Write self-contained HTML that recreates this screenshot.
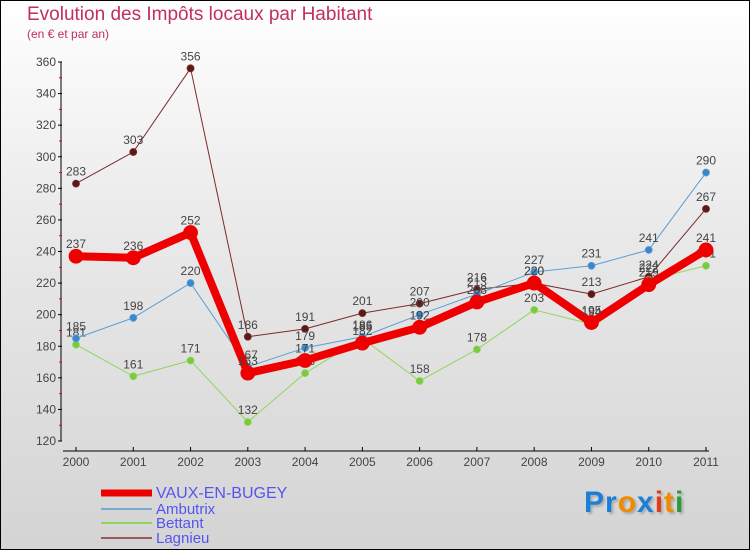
<!DOCTYPE html>
<html><head><meta charset="utf-8"><style>
body{margin:0}
#c{position:relative;width:748px;height:548px;border:1px solid #000;background:linear-gradient(#fff 0%,#eaeaea 40%,#d4d4d4 100%);font-family:"Liberation Sans",sans-serif;overflow:hidden}
</style></head><body>
<div id="c">
<div style="position:absolute;left:26px;top:3px;font-size:19px;color:#c0305a">Evolution des Impôts locaux par Habitant</div>
<div style="position:absolute;left:26px;top:26px;font-size:12px;color:#c0305a">(en € et par an)</div>
<svg id="s" width="748" height="548" style="position:absolute;left:0;top:0"></svg>
<div style="position:absolute;left:583px;top:485px;font-size:30px;font-weight:bold;letter-spacing:1px;text-shadow:2px 2px 2px #aaa"><span style="color:#1a7fd6">Pr</span><span style="color:#f08a00">o</span><span style="color:#1a7fd6">x</span><span style="color:#e23a1a">i</span><span style="color:#f08a00">t</span><span style="color:#2a9a3a">i</span></div>
</div>
<script>
const years=["2000","2001","2002","2003","2004","2005","2006","2007","2008","2009","2010","2011"];
const yTicks=[120,140,160,180,200,220,240,260,280,300,320,340,360];
const vaux=[237,236,252,163,171,182,192,208,220,195,219,241];
const ambutrix=[185,198,220,167,179,186,200,213,227,231,241,290];
const bettant=[181,161,171,132,163,185,158,178,203,194,222,231];
const lagnieu=[283,303,356,186,191,201,207,216,220,213,224,267];
const NS="http://www.w3.org/2000/svg";
const s=document.getElementById('s');
const X=i=>75+i*(630/11);
const Y=v=>440-(v-120)*(379/240);
function mk(t,a,p){const e=document.createElementNS(NS,t);for(const k in a)e.setAttribute(k,a[k]);(p||s).appendChild(e);return e;}
// axes
let ya=mk('line',{x1:60,y1:Y(360),x2:60,y2:440,stroke:'#000','stroke-width':1});


let xa=mk('line',{x1:62,y1:450,x2:708,y2:450,stroke:'#000','stroke-width':1});


yTicks.forEach((v,i)=>{
  mk('line',{x1:57,y1:Y(v),x2:61,y2:Y(v),stroke:'#000'});
  if(i<yTicks.length-1) mk('line',{x1:58,y1:Y(v+10),x2:61,y2:Y(v+10),stroke:'#e00'});
  const t=mk('text',{x:55,y:Y(v)+4,'text-anchor':'end','font-size':12,fill:'#444'});
  t.textContent=v;
  
  
});
years.forEach((y,i)=>{
  mk('line',{x1:X(i),y1:446,x2:X(i),y2:450,stroke:'#000'});
  const t=mk('text',{x:X(i),y:465,'text-anchor':'middle','font-size':12,fill:'#444'});
  t.textContent=y;
  
  
});
function series(data,color,w,r,name,dot){
  const g=mk('g',{});
  
  
  mk('polyline',{points:data.map((v,i)=>X(i)+','+Y(v)).join(' '),fill:'none',stroke:color,'stroke-width':w,'stroke-linejoin':'round'},g);
  data.forEach((v,i)=>{
    const c=mk('circle',{cx:X(i),cy:Y(v),r:r,fill:dot,stroke:color,'stroke-width':0.8},g);
    
    
    const t=mk('text',{x:X(i),y:Y(v)-8,'text-anchor':'middle','font-size':12,fill:'#444'},g);
    t.textContent=v;
    
    
  });
}
series(lagnieu,'#7a2a2a',1,3.5,'lagnieu','#5a1a1a');
series(bettant,'#8fd65a',1,3.5,'bettant','#7ac943');
series(ambutrix,'#5a9fd6',1,3.5,'ambutrix','#3a88cc');
series(vaux,'#ee0000',8,7,'vaux-en-bugey','#ee0000');
// legend
const leg=[['VAUX-EN-BUGEY','#ee0000',7,492],['Ambutrix','#7aaad0',2,508],['Bettant','#8fd65a',2,522],['Lagnieu','#9a5a5a',2,537]];
leg.forEach(l=>{
  const g=mk('g',{});
  
  
  mk('line',{x1:100,y1:l[3],x2:151,y2:l[3],stroke:l[1],'stroke-width':l[2]},g);
  const t=mk('text',{x:155,y:l[3]+5,'font-size':l[0]==='VAUX-EN-BUGEY'?16:15,fill:'#5555ee'},g);
  t.textContent=l[0];
});
</script>
</body></html>
